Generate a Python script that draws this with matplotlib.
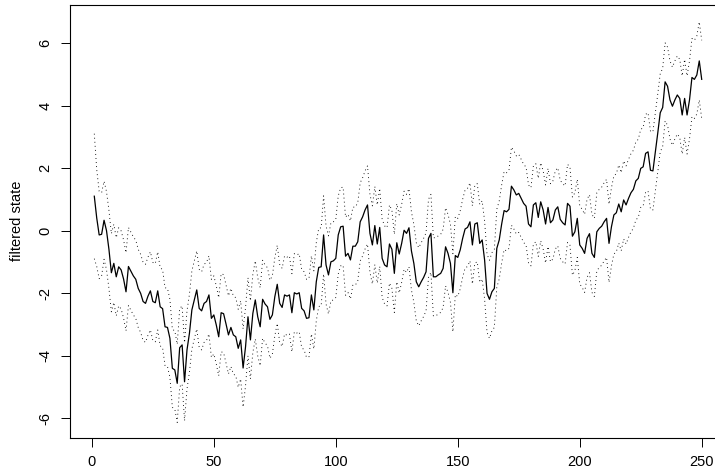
import numpy as np
import matplotlib
matplotlib.use("Agg")
import matplotlib.pyplot as plt

plt.rcParams['font.family'] = ['Liberation Sans', 'DejaVu Sans']

# filtered state, t = 1..250
state = [
    1.10, 0.40, -0.14, -0.12, 0.33, 0.00, -0.60, -1.35, -1.05, -1.48,
    -1.16, -1.26, -1.55, -1.96, -1.15, -1.30, -1.45, -1.56, -1.85, -2.01,
    -2.27, -2.33, -2.10, -1.93, -2.27, -2.31, -1.93, -2.44, -2.50, -3.08,
    -3.10, -3.45, -4.41, -4.46, -4.89, -3.75, -3.66, -4.84, -3.82, -3.29,
    -2.54, -2.22, -1.90, -2.49, -2.57, -2.33, -2.27, -2.06, -2.81, -2.70,
    -3.02, -3.40, -2.63, -2.66, -2.99, -3.34, -3.10, -3.34, -3.40, -3.77,
    -3.50, -4.40, -3.72, -2.76, -3.50, -2.65, -2.22, -2.76, -3.08, -2.20,
    -2.35, -2.44, -2.84, -2.70, -2.12, -1.72, -2.33, -2.46, -2.06, -2.10,
    -2.06, -2.63, -1.99, -2.03, -1.99, -2.49, -2.57, -2.81, -2.79, -2.06,
    -2.54, -1.64, -1.18, -1.16, -0.14, -1.10, -1.42, -1.00, -0.97, -0.89,
    -0.14, 0.12, 0.14, -0.82, -0.73, -0.94, -0.50, -0.50, -0.36, 0.28,
    0.44, 0.66, 0.82, -0.09, -0.46, 0.16, -0.43, 0.10, -0.89, -1.10,
    -1.16, -0.43, -0.60, -1.37, -0.39, -0.75, -0.41, 0.01, -0.09, 0.09,
    -0.65, -1.05, -1.64, -1.80, -1.64, -1.50, -1.32, -0.25, -0.09, -1.48,
    -1.48, -1.42, -1.37, -1.21, -0.52, -0.73, -1.05, -1.99, -0.80, -0.86,
    -0.62, -0.25, 0.05, 0.10, 0.28, -0.46, 0.21, 0.25, -0.41, -0.30,
    -0.94, -2.01, -2.20, -1.96, -1.85, -0.57, -0.30, 0.21, 0.64, 0.60,
    0.68, 1.42, 1.30, 1.14, 1.19, 1.03, 0.87, 0.78, 0.21, 0.12,
    0.82, 0.89, 0.42, 0.92, 0.66, 0.21, 0.74, 0.25, 0.34, 0.66,
    0.76, 0.36, 0.25, 0.18, 0.87, 0.78, -0.18, -0.04, 0.39, -0.46,
    -0.57, -0.73, -0.25, -0.10, -0.73, -0.86, -0.04, 0.07, 0.14, 0.28,
    0.39, -0.41, 0.12, 0.50, 0.57, 0.85, 0.60, 0.98, 0.82, 1.03,
    1.21, 1.32, 1.59, 1.67, 1.99, 2.04, 2.47, 2.52, 1.93, 1.91,
    2.52, 3.13, 3.77, 3.94, 4.76, 4.62, 4.18, 3.98, 4.18, 4.34,
    4.23, 3.70, 4.23, 3.70, 4.18, 4.90, 4.84, 4.98, 5.43, 4.84,
]

# half-width of the interval: wide at the start, then steady
width_start = [2.0, 1.55, 1.4, 1.33]
width_steady = 1.25

x_ticks = [0, 50, 100, 150, 200, 250]
y_ticks = [-6, -4, -2, 0, 2, 4, 6]

t = np.arange(1, len(state) + 1)
s = np.array(state)
half = np.full(len(s), width_steady)
half[:len(width_start)] = width_start
upper = s + half
lower = s - half

fig = plt.figure(figsize=(7.15, 4.73), dpi=100)
# axes box runs off the right edge of the figure
ax = fig.add_axes([70 / 715, 1 - 438 / 473, (726 - 70) / 715, (438 - 5) / 473])

ax.plot(t, s, color='black', lw=0.9)
ax.plot(t, upper, color='black', lw=0.65, ls=(0, (1, 3.5)))
ax.plot(t, lower, color='black', lw=0.65, ls=(0, (1, 3.5)))

ax.set_xlim(1 - 0.04 * 249, 250 + 0.04 * 249)
ax.set_ylim(-6.64, 7.22)
ax.set_xticks(x_ticks)
ax.set_yticks(y_ticks)
ax.set_xticklabels([str(v) for v in x_ticks], fontsize=10.5)
ax.set_yticklabels([str(v) for v in y_ticks], fontsize=10.5, rotation=90, va='center')
ax.tick_params(direction='out', length=6.5, width=0.7, pad=6)
for sp in ax.spines.values():
    sp.set_linewidth(0.8)

fig.text(17 / 715, 1 - 221 / 473, 'filtered state', rotation=90,
         ha='center', va='center', fontsize=10.5)

fig.savefig('out.png', dpi=100)
